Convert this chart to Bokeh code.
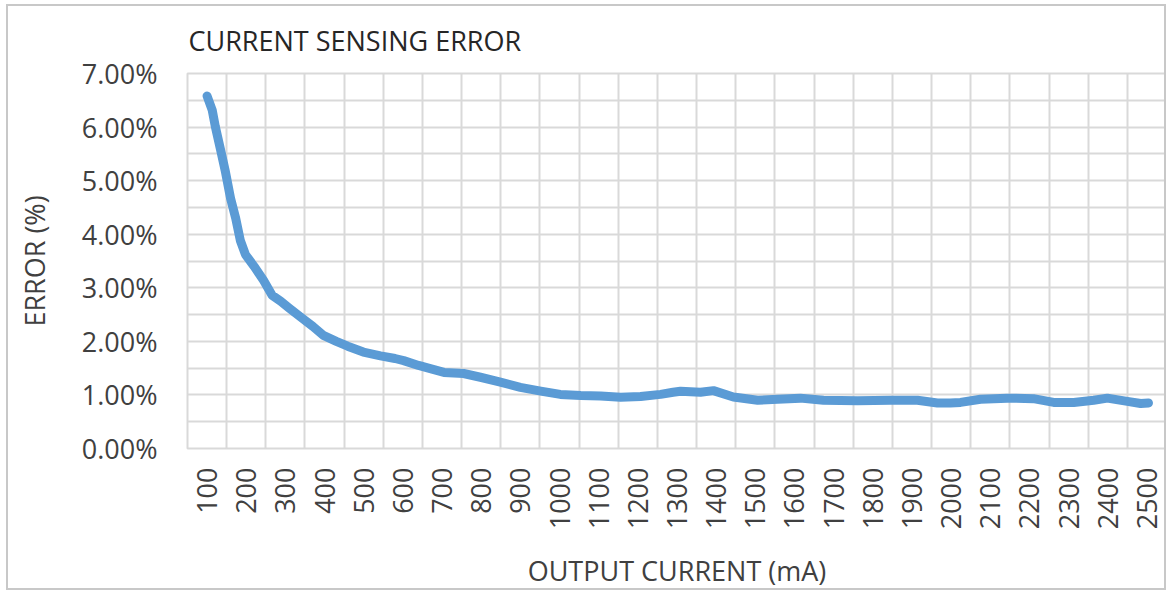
from bokeh.plotting import figure
from bokeh.models import Range1d, FixedTicker, PrintfTickFormatter
from bokeh.embed import file_html
from bokeh.resources import INLINE
import math

# ---- data ----
output_current_ma = [100, 113, 121, 134, 147, 160, 173, 185, 198, 220, 244, 266, 288, 310,
                     338, 370, 397, 430, 459, 499, 543, 580, 602, 640, 670, 705, 755, 798,
                     849, 900, 952, 1002, 1054, 1105, 1156, 1207, 1258, 1290, 1309, 1360,
                     1393, 1444, 1506, 1557, 1615, 1674, 1761, 1845, 1914, 1965, 1998, 2024,
                     2075, 2143, 2210, 2262, 2313, 2364, 2399, 2450, 2484, 2504]
error_pct = [6.58, 6.32, 6.01, 5.59, 5.16, 4.67, 4.30, 3.88, 3.62, 3.40, 3.14, 2.86, 2.75, 2.62,
             2.46, 2.28, 2.11, 2.00, 1.91, 1.80, 1.73, 1.68, 1.64, 1.55, 1.49, 1.42, 1.40, 1.33,
             1.24, 1.14, 1.07, 1.01, 0.99, 0.98, 0.955, 0.97, 1.01, 1.05, 1.07, 1.05,
             1.08, 0.96, 0.90, 0.92, 0.94, 0.90, 0.89, 0.90, 0.90, 0.85, 0.85, 0.86,
             0.92, 0.94, 0.93, 0.86, 0.86, 0.90, 0.94, 0.88, 0.84, 0.85]

x_tick_values = list(range(100, 2501, 100))
y_tick_values = [0, 1, 2, 3, 4, 5, 6, 7]

title_text = "CURRENT SENSING ERROR"
x_label = "OUTPUT CURRENT (mA)"
y_label = "ERROR (%)"

FONT = "Open Sans"
FS = "27px"
TEXT = "#404040"
GRID = "#d9d9d9"

p = figure(width=1160, height=586, output_backend="svg", toolbar_location=None,
           x_range=Range1d(50, 2550), y_range=Range1d(0, 7),
           min_border_left=179, min_border_right=2, min_border_top=67,
           min_border_bottom=138)

p.styles = {"border": "2px solid #c8c8c8", "margin-left": "6px", "margin-top": "4px"}

p.title.text = title_text
p.title.text_font = FONT
p.title.text_font_size = FS
p.title.text_font_style = "normal"
p.title.text_color = "#262626"
p.title.align = "left"
p.title.offset = 1
p.title.standoff = 26
p.title.vertical_align = "top"

p.line(output_current_ma, error_pct, line_color="#5b9bd5", line_width=9,
       line_cap="round", line_join="round")

# x axis (category-like: labels centered between grid lines)
p.xaxis.ticker = FixedTicker(ticks=x_tick_values)
p.xaxis.major_label_orientation = math.pi / 2
p.xaxis.axis_label = x_label
p.yaxis.ticker = FixedTicker(ticks=y_tick_values)
p.yaxis.formatter = PrintfTickFormatter(format="%.2f%%")
p.yaxis.axis_label = y_label

for ax in (p.xaxis, p.yaxis):
    ax.axis_line_color = None
    ax.major_tick_line_color = None
    ax.minor_tick_line_color = None
    ax.major_tick_in = 0
    ax.major_tick_out = 0
    ax.major_label_text_font = FONT
    ax.major_label_text_font_size = FS
    ax.major_label_text_color = TEXT
    ax.axis_label_text_font = FONT
    ax.axis_label_text_font_size = FS
    ax.axis_label_text_font_style = "normal"
    ax.axis_label_text_color = TEXT

p.xaxis.major_label_standoff = 19
p.xaxis.axis_label_standoff = 20
p.yaxis.major_label_standoff = 30
p.yaxis.axis_label_standoff = 26

p.xgrid.ticker = FixedTicker(ticks=[v + 50 for v in x_tick_values[:-1]])
p.ygrid.ticker = FixedTicker(ticks=[i * 0.5 for i in range(1, 14)])
for g in (p.xgrid, p.ygrid):
    g.grid_line_color = GRID
    g.grid_line_width = 2

p.outline_line_color = GRID
p.outline_line_width = 2
p.background_fill_color = "white"
p.border_fill_color = "white"

open("out.html", "w").write(file_html(p, INLINE))
